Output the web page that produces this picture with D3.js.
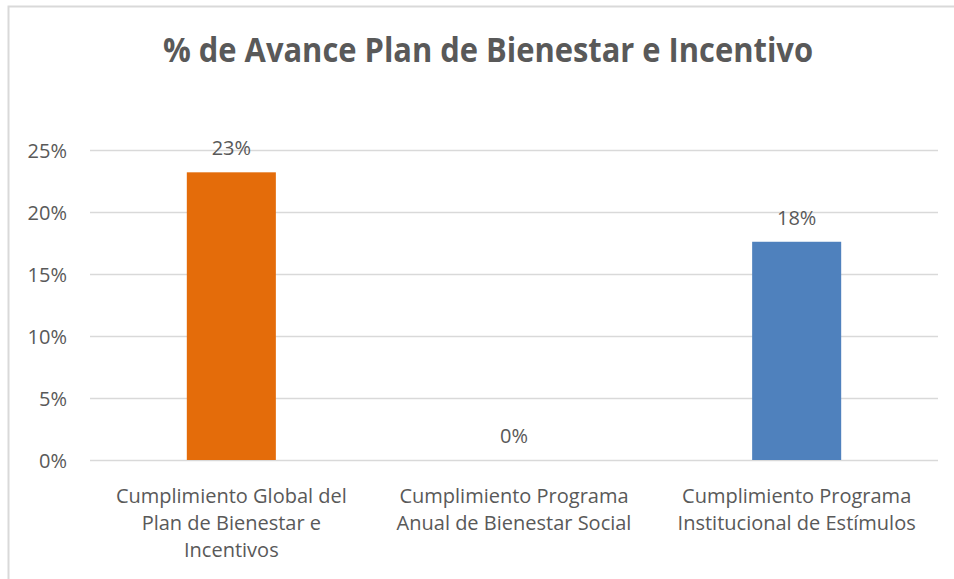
<!DOCTYPE html>
<html>
<head>
<meta charset="utf-8">
<script src="https://cdn.jsdelivr.net/npm/d3@7"></script>
<style>
  body { margin: 0; background: #fff; }
  text { font-family: "Open Sans", "Noto Sans", sans-serif; fill: #595959; }
</style>
</head>
<body>
<svg id="chart" width="954" height="579"></svg>
<script>
// chart data
var title = "% de Avance Plan de Bienestar e Incentivo";
var categories = [
    ["Cumplimiento Global del", "Plan de Bienestar e", "Incentivos"],
    ["Cumplimiento Programa", "Anual de Bienestar Social"],
    ["Cumplimiento Programa", "Institucional de Estímulos"]
];
var values = [0.232, 0, 0.176];
var valueLabels = ["23%", "0%", "18%"];
var barColors = ["#E46C0A", "#E46C0A", "#4F81BD"];
var yTicks = [0, 0.05, 0.10, 0.15, 0.20, 0.25];

var svg = d3.select("#chart");
var margin = {left: 90, right: 16, top: 150, bottom: 119};
var width = 954 - margin.left - margin.right;
var height = 579 - margin.top - margin.bottom;

// outer chart border
svg.append("rect")
    .attr("x", 8.5).attr("y", 6.5)
    .attr("width", 960).attr("height", 600)
    .attr("fill", "none")
    .attr("stroke", "#D9D9D9")
    .attr("stroke-width", 2);

svg.append("text")
    .attr("x", 488).attr("y", 62)
    .attr("text-anchor", "middle")
    .attr("font-size", 34)
    .attr("font-weight", "bold")
    .attr("textLength", 650)
    .attr("lengthAdjust", "spacingAndGlyphs")
    .text(title);

var g = svg.append("g").attr("transform", "translate(" + margin.left + "," + margin.top + ")");

var x = d3.scaleBand().domain(d3.range(categories.length)).range([0, width]).padding(0);
var y = d3.scaleLinear().domain([0, 0.25]).range([height, 0]);
var barW = x.bandwidth() * 0.315;

// gridlines + y labels
var yAxis = d3.axisLeft(y).tickValues(yTicks).tickSize(-width).tickFormat(d3.format(".0%"));
g.append("g").call(yAxis)
    .call(function(s) {
        s.select(".domain").remove();
        s.selectAll(".tick line").attr("stroke", "#D9D9D9").attr("stroke-width", 1.5);
        s.selectAll(".tick text").attr("x", -23).attr("dy", "0.35em")
            .attr("font-size", 20).style("font-family", "'Open Sans', sans-serif").attr("fill", "#595959");
    });

g.selectAll("rect.bar")
    .data(values)
    .enter().append("rect")
    .attr("class", "bar")
    .attr("x", function(d, i) { return x(i) + x.bandwidth() / 2 - barW / 2; })
    .attr("y", function(d) { return y(d); })
    .attr("width", barW)
    .attr("height", function(d) { return height - y(d); })
    .attr("fill", function(d, i) { return barColors[i]; });

g.selectAll("text.val")
    .data(values)
    .enter().append("text")
    .attr("class", "val")
    .attr("x", function(d, i) { return x(i) + x.bandwidth() / 2; })
    .attr("y", function(d) { return y(d) - 17; })
    .attr("text-anchor", "middle")
    .attr("font-size", 20)
    .text(function(d, i) { return valueLabels[i]; });

// category labels
var cat = g.selectAll("text.cat")
    .data(categories)
    .enter().append("text")
    .attr("class", "cat")
    .attr("text-anchor", "middle")
    .attr("font-size", 20)
    .attr("transform", function(d, i) { return "translate(" + (x(i) + x.bandwidth() / 2) + "," + (height + 43) + ")"; });
cat.selectAll("tspan")
    .data(function(d) { return d; })
    .enter().append("tspan")
    .attr("x", 0)
    .attr("y", function(d, j) { return j * 27; })
    .text(function(d) { return d; });
</script>
</body>
</html>
